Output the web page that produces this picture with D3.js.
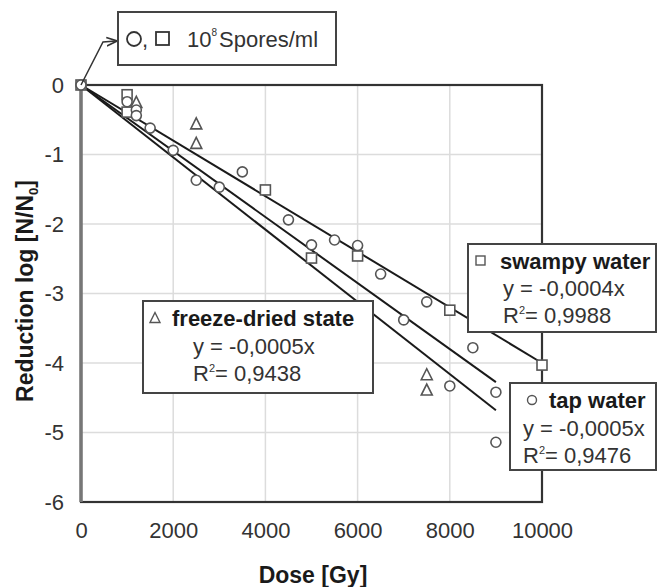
<!DOCTYPE html>
<html>
<head>
<meta charset="utf-8">
<script src="https://cdn.jsdelivr.net/npm/d3@7"></script>
<style>
  html, body { margin: 0; padding: 0; background: #fff; }
  svg { display: block; font-family: "Liberation Sans", Arial, sans-serif; }
</style>
</head>
<body>
<svg id="chart" width="661" height="587"></svg>
<script>
// Survival of spores after irradiation: log reduction vs. absorbed dose
const tapDose   = [0, 1000, 1200, 1200, 1500, 2000, 2500, 3000, 3500, 4500, 5000, 5500, 6000, 6500, 7000, 7500, 8000, 8500, 9000, 9000];
const tapLog    = [0, -0.24, -0.36, -0.44, -0.62, -0.94, -1.37, -1.47, -1.25, -1.94, -2.30, -2.23, -2.31, -2.72, -3.38, -3.12, -4.33, -3.78, -4.42, -5.14];
const swampyDose = [0, 1000, 1000, 4000, 5000, 6000, 8000, 10000];
const swampyLog  = [0, -0.14, -0.39, -1.51, -2.49, -2.46, -3.24, -4.03];
const freezeDose = [1200, 2500, 2500, 7500, 7500];
const freezeLog  = [-0.25, -0.56, -0.84, -4.17, -4.39];

// Linear trends through the origin (slope per Gy) and the dose where each ends
const trendNames  = ["swampy water", "tap water", "freeze-dried state"];
const trendSlopes = [-0.0004, -0.000475, -0.00052];
const trendEnds   = [10000, 9000, 9000];

// Equation labels
const eqSlopeText = ["-0,0004x", "-0,0005x", "-0,0005x"];
const eqR2Text    = ["0,9988", "0,9476", "0,9438"];

const xTicks = [0, 2000, 4000, 6000, 8000, 10000];
const yTicks = [0, -1, -2, -3, -4, -5, -6];

const svg = d3.select("#chart");
const x = d3.scaleLinear().domain([0, 10000]).range([81, 542]);
const y = d3.scaleLinear().domain([-6, 0]).range([502, 85]);

const FONT = 22;

// grid
svg.append("g").selectAll("line.gx").data(xTicks.slice(1, -1)).join("line")
  .attr("x1", d => x(d)).attr("x2", d => x(d)).attr("y1", y(0)).attr("y2", y(-6))
  .attr("stroke", "#dcdcdc").attr("stroke-width", 1.5);
svg.append("g").selectAll("line.gy").data(yTicks.slice(1, -1)).join("line")
  .attr("x1", x(0)).attr("x2", x(10000)).attr("y1", d => y(d)).attr("y2", d => y(d))
  .attr("stroke", "#dcdcdc").attr("stroke-width", 1.5);

// axes (labels only; frame drawn separately)
const xAxis = svg.append("g").attr("transform", `translate(0,${y(-6)})`)
  .call(d3.axisBottom(x).tickValues(xTicks).tickSize(0).tickPadding(20).tickFormat(d3.format("d")));
const yAxis = svg.append("g").attr("transform", `translate(${x(0)},0)`)
  .call(d3.axisLeft(y).tickValues(yTicks).tickSize(0).tickPadding(17).tickFormat(d => d === 0 ? "0" : "-" + Math.abs(d)));
[xAxis, yAxis].forEach(a => {
  a.select(".domain").remove();
  a.selectAll("text").attr("font-size", FONT).attr("fill", "#333")
    .attr("font-family", "'Liberation Sans', Arial, sans-serif");
});

// trend lines
svg.append("g").selectAll("line").data(trendSlopes).join("line")
  .attr("x1", x(0)).attr("y1", y(0))
  .attr("x2", (s, i) => x(trendEnds[i])).attr("y2", (s, i) => y(s * trendEnds[i]))
  .attr("stroke", "#1a1a1a").attr("stroke-width", 2);

// frame
svg.append("rect").attr("x", x(0)).attr("y", y(0))
  .attr("width", x(10000) - x(0)).attr("height", y(-6) - y(0))
  .attr("fill", "none").attr("stroke", "#333").attr("stroke-width", 2.2);
svg.append("line").attr("x1", x(0)).attr("x2", x(0)).attr("y1", y(0)).attr("y2", y(-6))
  .attr("stroke", "#777").attr("stroke-width", 3.5);

// markers
const mk = { stroke: "#555", sw: 1.6 };
const triPath = (cx, cy, s) => `M${cx},${cy - s * 0.55}L${cx + s / 2},${cy + s * 0.45}L${cx - s / 2},${cy + s * 0.45}Z`;

svg.append("g").selectAll("path").data(d3.range(freezeDose.length)).join("path")
  .attr("d", i => triPath(x(freezeDose[i]), y(freezeLog[i]), 11))
  .attr("fill", "#fff").attr("stroke", mk.stroke).attr("stroke-width", mk.sw);
svg.append("g").selectAll("rect").data(d3.range(swampyDose.length)).join("rect")
  .attr("x", i => x(swampyDose[i]) - 5).attr("y", i => y(swampyLog[i]) - 5)
  .attr("width", 10).attr("height", 10)
  .attr("fill", "#fff").attr("stroke", mk.stroke).attr("stroke-width", mk.sw);
svg.append("g").selectAll("circle").data(d3.range(tapDose.length)).join("circle")
  .attr("cx", i => x(tapDose[i])).attr("cy", i => y(tapLog[i])).attr("r", 5)
  .attr("fill", "#fff").attr("stroke", mk.stroke).attr("stroke-width", mk.sw);

// boxed annotations
function box(x0, y0, w, h) {
  svg.append("rect").attr("x", x0).attr("y", y0).attr("width", w).attr("height", h)
    .attr("fill", "#fff").attr("stroke", "#444").attr("stroke-width", 2);
}
function txt(tx, ty, bold) {
  return svg.append("text").attr("x", tx).attr("y", ty).attr("font-size", FONT)
    .attr("font-weight", bold ? "bold" : "normal").attr("fill", bold ? "#1a1a1a" : "#333");
}
function r2(tx, ty, val) {
  const t = txt(tx, ty, false);
  t.append("tspan").text("R");
  t.append("tspan").attr("font-size", 11).attr("dy", -9).text("2");
  t.append("tspan").attr("dy", 9).text("= " + val);
}

// swampy water
box(468, 244, 188, 88);
svg.append("rect").attr("x", 476).attr("y", 256).attr("width", 9).attr("height", 9)
  .attr("fill", "#fff").attr("stroke", mk.stroke).attr("stroke-width", 1.4);
txt(500, 269, true).text(trendNames[0]);
txt(503, 296, false).text("y = " + eqSlopeText[0]);
r2(503, 323, eqR2Text[0]);

// tap water
box(510, 383, 146, 87);
svg.append("circle").attr("cx", 532).attr("cy", 400).attr("r", 4.5)
  .attr("fill", "#fff").attr("stroke", mk.stroke).attr("stroke-width", 1.4);
txt(549, 408, true).text(trendNames[1]);
txt(523, 436, false).text("y = " + eqSlopeText[1]);
r2(523, 463, eqR2Text[1]);

// freeze-dried state
box(143, 301, 230, 92);
svg.append("path").attr("d", triPath(155, 318, 10))
  .attr("fill", "#fff").attr("stroke", mk.stroke).attr("stroke-width", 1.4);
txt(172, 326, true).text(trendNames[2]);
txt(193, 354, false).text("y = " + eqSlopeText[2]);
r2(193, 381, eqR2Text[2]);

// concentration note with pointer to the origin
box(118, 12, 218, 53);
svg.append("circle").attr("cx", 134).attr("cy", 39).attr("r", 7)
  .attr("fill", "none").attr("stroke", "#333").attr("stroke-width", 1.8);
txt(142, 47, false).text(",");
svg.append("rect").attr("x", 156).attr("y", 32).attr("width", 13).attr("height", 13)
  .attr("fill", "none").attr("stroke", "#333").attr("stroke-width", 1.8);
const conc = txt(187, 47, false);
conc.append("tspan").text("10");
conc.append("tspan").attr("font-size", 10).attr("dy", -11).text("8");
conc.append("tspan").attr("dy", 11).attr("dx", 2).text("Spores/ml");

svg.append("defs").append("marker").attr("id", "ah").attr("viewBox", "0 0 10 10")
  .attr("refX", 9).attr("refY", 5).attr("markerWidth", 7).attr("markerHeight", 7)
  .attr("orient", "auto").append("path").attr("d", "M0,1L10,5L0,9").attr("fill", "none")
  .attr("stroke", "#333").attr("stroke-width", 1.6);
svg.append("path").attr("d", `M${x(0)},${y(0)}L103,42L116,41`)
  .attr("fill", "none").attr("stroke", "#333").attr("stroke-width", 1.5)
  .attr("marker-end", "url(#ah)");

// axis titles
svg.append("text").attr("x", 313).attr("y", 583).attr("text-anchor", "middle")
  .attr("font-size", 23).attr("font-weight", "bold").attr("fill", "#1a1a1a").text("Dose [Gy]");
const yt = svg.append("text").attr("transform", "translate(33,291) rotate(-90)")
  .attr("text-anchor", "middle").attr("font-size", 23).attr("font-weight", "bold").attr("fill", "#1a1a1a");
yt.append("tspan").text("Reduction log [N/N");
yt.append("tspan").attr("font-size", 13).attr("dy", 5).text("0");
yt.append("tspan").attr("dy", -5).text("]");
</script>
</body>
</html>
